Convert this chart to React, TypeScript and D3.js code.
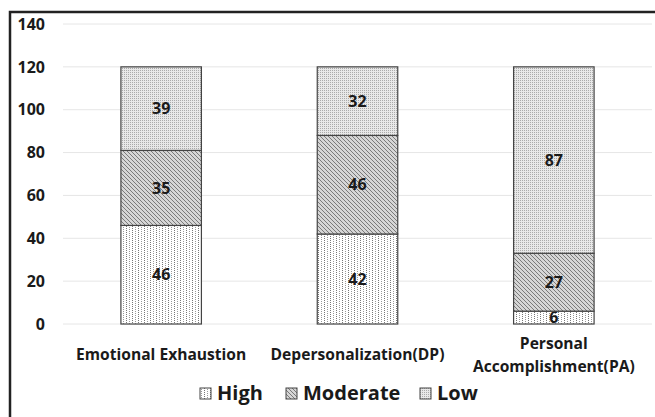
import React from "react";
import * as d3 from "d3";

const categories = ["Emotional Exhaustion", "Depersonalization(DP)", "Personal Accomplishment(PA)"];
const categoryLines = [["Emotional Exhaustion"], ["Depersonalization(DP)"], ["Personal", "Accomplishment(PA)"]];
const seriesNames = ["High", "Moderate", "Low"];
const highValues = [46, 42, 6];
const moderateValues = [35, 46, 27];
const lowValues = [39, 32, 87];
const yTicks = [0, 20, 40, 60, 80, 100, 120, 140];

const W = 655, H = 417;
const margin = { left: 63, right: 3, top: 24, bottom: 93 };
const FONT = "'Open Sans', sans-serif";

export default function App() {
  const x = d3.scaleBand().domain(categories).range([margin.left, W - margin.right]).paddingInner(0.59).paddingOuter(0.295);
  const y = d3.scaleLinear().domain([0, 140]).range([H - margin.bottom, margin.top]);
  const rows = categories.map((c, i) => ({ cat: c, High: highValues[i], Moderate: moderateValues[i], Low: lowValues[i] }));
  const stack = d3.stack<any>().keys(seriesNames)(rows);
  const fills = ["url(#pHigh)", "url(#pMod)", "url(#pLow)"];
  const legendX = [200, 286, 420];

  return (
    <svg width={W} height={H} style={{ position: "absolute", left: 0, top: 0, background: "#fff" }}>
      <defs>
        <pattern id="pHigh" width="6" height="4" patternUnits="userSpaceOnUse">
          <rect width="6" height="4" fill="#fff" />
          <rect x="0" y="0" width="1" height="1" fill="#777" />
          <rect x="0" y="2" width="1" height="1" fill="#777" />
          <rect x="3" y="1" width="1" height="1" fill="#999" />
          <rect x="3" y="3" width="1" height="1" fill="#999" />
        </pattern>
        <pattern id="pMod" width="4" height="4" patternUnits="userSpaceOnUse">
          <rect width="4" height="4" fill="#d6d6d6" />
          <path d="M-1,-1 L5,5 M-1,3 L1,5 M3,-1 L5,1" stroke="#7a7a7a" strokeWidth="1" />
        </pattern>
        <pattern id="pLow" width="2" height="2" patternUnits="userSpaceOnUse">
          <rect width="2" height="2" fill="#e8e8e8" />
          <rect x="0" y="0" width="1" height="1" fill="#aaa" />
        </pattern>
      </defs>
      <rect x={10} y={12} width={W + 10} height={H + 10} fill="none" stroke="#222" strokeWidth={2.5} />
      {yTicks.map(t => (
        <g key={t}>
          <line x1={margin.left} x2={W - margin.right} y1={y(t)} y2={y(t)} stroke="#e6e6e6" strokeWidth={1} />
          <text x={45} y={y(t)} dy="0.36em" textAnchor="end" fontFamily={FONT} fontWeight="bold" fontSize={16} fill="#1a1a1a">{t}</text>
        </g>
      ))}
      {stack.map((s, si) => (
        <g key={s.key}>
          {s.map((d, i) => {
            const x0 = x(categories[i])!;
            const y0 = y(d[1]);
            const h = y(d[0]) - y(d[1]);
            return (
              <g key={i}>
                <rect x={x0} y={y0} width={x.bandwidth()} height={h} fill={fills[si]} stroke="#444" strokeWidth={1.2} />
                <text x={x0 + x.bandwidth() / 2} y={y0 + h / 2} dy="0.36em" textAnchor="middle" fontFamily={FONT} fontWeight="bold" fontSize={16} fill="#1a1a1a">{d[1] - d[0]}</text>
              </g>
            );
          })}
        </g>
      ))}
      {categoryLines.map((lines, i) => {
        const cx = x(categories[i])! + x.bandwidth() / 2;
        const y0 = lines.length === 1 ? 360 : 349;
        return (
          <text key={i} textAnchor="middle" fontFamily={FONT} fontWeight="bold" fontSize={15.6} fill="#1a1a1a">
            {lines.map((l, j) => <tspan key={j} x={cx} y={y0 + j * 23}>{l}</tspan>)}
          </text>
        );
      })}
      {seriesNames.map((n, i) => (
        <g key={n}>
          <rect x={legendX[i]} y={388} width={11} height={11} fill={fills[i]} stroke="#444" strokeWidth={1} />
          <text x={legendX[i] + 17} y={400} fontFamily={FONT} fontWeight="bold" fontSize={20} fill="#1a1a1a">{n}</text>
        </g>
      ))}
    </svg>
  );
}
